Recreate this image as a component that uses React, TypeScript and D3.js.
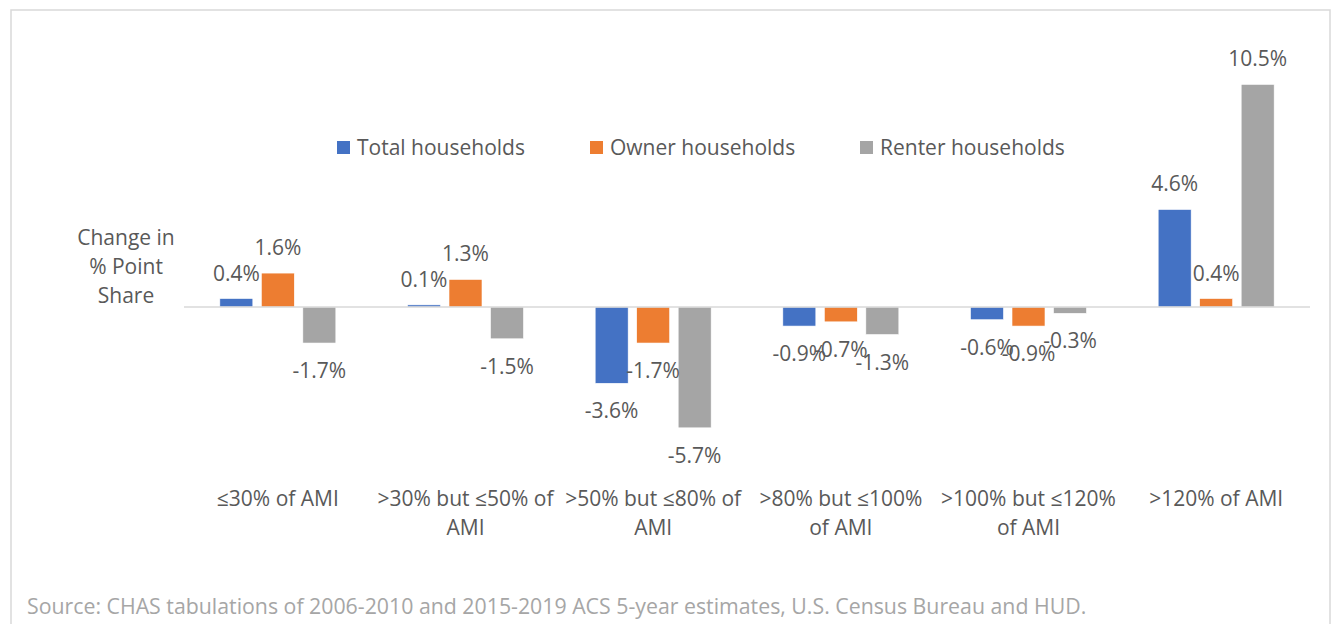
import React from "react";
import * as d3 from "d3";

const categories = [
  "≤30% of AMI",
  ">30% but ≤50% of\nAMI",
  ">50% but ≤80% of\nAMI",
  ">80% but ≤100%\nof AMI",
  ">100% but ≤120%\nof AMI",
  ">120% of AMI",
];
const seriesNames = ["Total households", "Owner households", "Renter households"];
const totalValues = [0.4, 0.1, -3.6, -0.9, -0.6, 4.6];
const ownerValues = [1.6, 1.3, -1.7, -0.7, -0.9, 0.4];
const renterValues = [-1.7, -1.5, -5.7, -1.3, -0.3, 10.5];
const colours = ["#4472C4", "#ED7D31", "#A5A5A5"];
const yTitle = ["Change in", "% Point", "Share"];
const source =
  "Source: CHAS tabulations of 2006-2010 and 2015-2019 ACS 5-year estimates, U.S. Census Bureau and HUD.";

const W = 1335;
const H = 624;
const font = "'Open Sans', 'Noto Sans', sans-serif";
const textColour = "#595959";

export default function App() {
  const values = [totalValues, ownerValues, renterValues];

  const x0 = d3.scaleBand<string>().domain(categories).range([184, 1310]).padding(0);
  const groupW = 116;
  const x1 = d3.scaleBand<string>().domain(seriesNames).range([0, groupW]).paddingInner(0.205);
  const y = d3.scaleLinear().domain([-6, 11]).range([434.2, 73.8]);
  // plain hyphen for negatives, like the source chart
  const fmt = (v: number) => d3.format(".1f")(v).replace("\u2212", "-") + "%";

  const bars: React.ReactNode[] = [];
  const labels: React.ReactNode[] = [];
  categories.forEach((c, i) => {
    const gx = x0(c)! + (x0.bandwidth() - groupW) / 2;
    seriesNames.forEach((s, j) => {
      const v = values[j][i];
      const bx = gx + x1(s)!;
      const top = Math.min(y(v), y(0));
      const h = Math.abs(y(v) - y(0));
      bars.push(
        <rect key={`b${i}-${j}`} x={bx} y={top} width={x1.bandwidth()} height={h} fill={colours[j]} stroke="#fff" strokeWidth={0.6} />
      );
      const ly = v >= 0 ? y(v) - 18 : y(v) + 35;
      labels.push(
        <text key={`l${i}-${j}`} x={bx + x1.bandwidth() / 2} y={ly} textAnchor="middle">
          {fmt(v)}
        </text>
      );
    });
  });

  const legendX = [337, 590, 860];

  return (
    <svg width={W} height={H} style={{ position: "absolute", left: 0, top: 0, background: "#fff" }}
      fontFamily={font} fontSize={21} fill={textColour}>
      <rect x={11} y={10} width={1319} height={700} fill="#fff" stroke="#d9d9d9" strokeWidth={1.5} />

      <g>{bars}</g>
      <line x1={184} x2={1310} y1={y(0)} y2={y(0)} stroke="#d9d9d9" strokeWidth={1.5} />
      <g>{labels}</g>

      <g>
        {seriesNames.map((s, j) => (
          <g key={s}>
            <rect x={legendX[j]} y={141} width={13} height={13} fill={colours[j]} />
            <text x={legendX[j] + 20} y={155}>{s}</text>
          </g>
        ))}
      </g>

      <g textAnchor="middle">
        {yTitle.map((t, k) => (
          <text key={t} x={126} y={245 + k * 29}>{t}</text>
        ))}
      </g>

      <g textAnchor="middle">
        {categories.map((c) =>
          c.split("\n").map((line, k) => (
            <text key={c + k} x={x0(c)! + x0.bandwidth() / 2} y={506 + k * 29}>{line}</text>
          ))
        )}
      </g>

      <text x={27} y={614} fill="#a6a6a6" fontSize={21.3}>{source}</text>
    </svg>
  );
}
